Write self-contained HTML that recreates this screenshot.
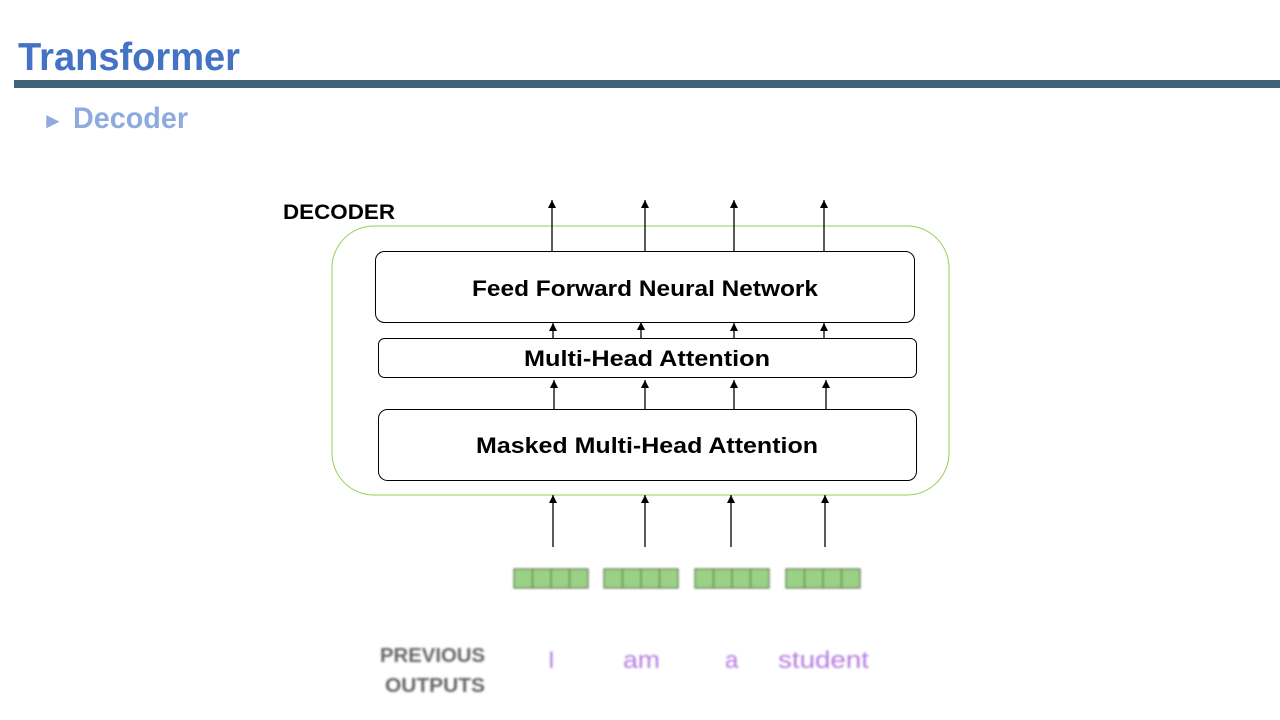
<!DOCTYPE html>
<html><head><meta charset="utf-8"><style>
html,body{margin:0;padding:0;background:#fff;width:1280px;height:720px;overflow:hidden}
text{font-family:"Liberation Sans","Noto Sans CJK KR",sans-serif}
</style></head><body>
<svg width="1280" height="720" viewBox="0 0 1280 720" xmlns="http://www.w3.org/2000/svg">
<defs>
<marker id="ah" markerWidth="8" markerHeight="8" refX="8" refY="4" orient="auto" markerUnits="userSpaceOnUse">
<path d="M0,0 L8,4 L0,8 Z" fill="#000"/></marker>
<filter id="bl"><feGaussianBlur stdDeviation="1"/></filter>
</defs>
<text x="18" y="70" font-size="39" font-weight="bold" fill="#4472c4" textLength="222" lengthAdjust="spacingAndGlyphs">Transformer</text>
<rect x="14" y="80" width="1266" height="8" fill="#3d6478"/>
<text x="42" y="128" font-size="22" fill="#8faadc">►</text>
<text x="73" y="128" font-size="30" font-weight="bold" fill="#8faadc" textLength="115" lengthAdjust="spacingAndGlyphs">Decoder</text>

<text x="283" y="219" font-size="21" font-weight="bold" fill="#000" textLength="112" lengthAdjust="spacingAndGlyphs">DECODER</text>
<rect x="332" y="226" width="617" height="269" rx="42" fill="none" stroke="#92d050" stroke-width="1"/>
<rect x="375.5" y="251.5" width="539" height="71" rx="9" fill="#fff" stroke="#000"/>
<text x="472" y="296" font-size="22" font-weight="bold" textLength="346" lengthAdjust="spacingAndGlyphs">Feed Forward Neural Network</text>
<rect x="378.5" y="338.5" width="538" height="39" rx="6" fill="#fff" stroke="#000"/>
<text x="524" y="366" font-size="22" font-weight="bold" textLength="246" lengthAdjust="spacingAndGlyphs">Multi-Head Attention</text>
<rect x="378.5" y="409.5" width="538" height="71" rx="9" fill="#fff" stroke="#000"/>
<text x="476" y="453" font-size="22" font-weight="bold" textLength="342" lengthAdjust="spacingAndGlyphs">Masked Multi-Head Attention</text>

<g stroke="#000" stroke-width="1.3" marker-end="url(#ah)">
<line x1="552" y1="251" x2="552" y2="200"/><line x1="645" y1="251" x2="645" y2="200"/>
<line x1="734" y1="251" x2="734" y2="200"/><line x1="824" y1="251" x2="824" y2="200"/>
<line x1="553" y1="338" x2="553" y2="323"/><line x1="641" y1="338" x2="641" y2="322"/>
<line x1="734" y1="338" x2="734" y2="323"/><line x1="824" y1="338" x2="824" y2="323"/>
<line x1="554" y1="409" x2="554" y2="380"/><line x1="645" y1="409" x2="645" y2="380"/>
<line x1="734" y1="409" x2="734" y2="380"/><line x1="826" y1="409" x2="826" y2="380"/>
<line x1="553" y1="547" x2="553" y2="495"/><line x1="645" y1="547" x2="645" y2="495"/>
<line x1="731" y1="547" x2="731" y2="495"/><line x1="825" y1="547" x2="825" y2="495"/>
</g>

<g filter="url(#bl)" stroke="#5e7a55" stroke-width="1.3" fill="#9bd184">
<rect x="514" y="569" width="74" height="19"/><rect x="604" y="569" width="74" height="19"/>
<rect x="695" y="569" width="74" height="19"/><rect x="786" y="569" width="74" height="19"/>
<path d="M532.5 569v19M551 569v19M569.5 569v19M622.5 569v19M641 569v19M659.5 569v19M713.5 569v19M732 569v19M750.5 569v19M804.5 569v19M823 569v19M841.5 569v19" fill="none"/>
</g>
<g filter="url(#bl)">
<text x="380" y="662" font-size="20" font-weight="bold" fill="#666" textLength="105" lengthAdjust="spacingAndGlyphs">PREVIOUS</text>
<text x="385" y="692" font-size="20" font-weight="bold" fill="#666" textLength="100" lengthAdjust="spacingAndGlyphs">OUTPUTS</text>
<g font-size="24" fill="#b57be0">
<text x="548" y="668">I</text>
<text x="623" y="668" textLength="37" lengthAdjust="spacingAndGlyphs">am</text>
<text x="725" y="668">a</text>
<text x="778" y="668" textLength="91" lengthAdjust="spacingAndGlyphs">student</text>
</g></g>
</svg>
</body></html>
